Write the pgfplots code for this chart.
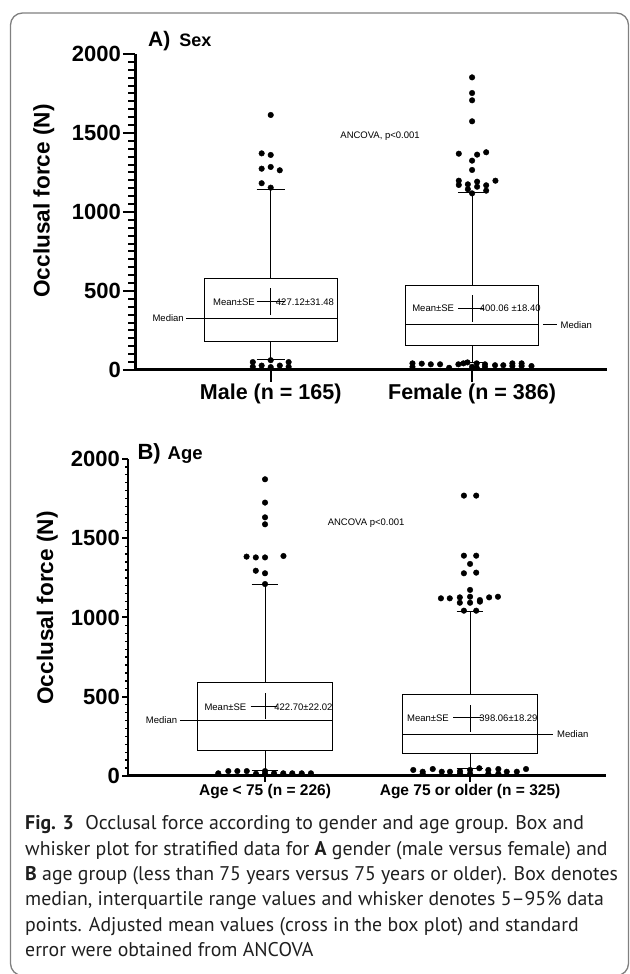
\documentclass[border=0pt]{standalone}
\usepackage{pgfplots}
\pgfplotsset{compat=1.18}
\usepackage{fontspec}
\setmainfont{Liberation Sans}
\newfontfamily\capfont{PT Sans}
\newcommand{\fs}[1]{\fontsize{#1bp}{#1bp}\selectfont}
\tikzset{ann/.style={font=\fs{9.5}, inner sep=1bp}}
\pgfplotsset{
  occl/.style={
    scale only axis, clip=false,
    ymin=0, ymax=2000,
    axis lines*=left,
    x axis line style={line width=3bp},
    tick align=outside, tick pos=left,
    ytick={0,500,1000,1500,2000},
    xtick={1,2},
    /pgf/number format/assume math mode=true,
    /pgf/number format/1000 sep={},
    yticklabel style={font=\fs{22}\bfseries, inner sep=2bp},
    ylabel={Occlusal force (N)},
    major tick style={black},
    unbounded coords=jump,
  },
  outl/.style={only marks, mark=*, mark size=2.8bp, black},
  ln/.style={black, line width=1bp, mark=none},
}
\begin{document}
\begin{tikzpicture}
\path[use as bounding box] (0,0) rectangle (630bp,974bp);
\draw[black!50, line width=1.3bp, rounded corners=12bp] (10.5bp,961bp) rectangle (628.5bp,-1.5bp);

% ---------------- Panel A ----------------
\begin{axis}[occl,
  at={(135bp,604bp)}, anchor=south west,
  width=472bp, height=316bp,
  xmin=0.326, xmax=2.67,
  y axis line style={line width=3bp},
  major tick length=12bp,
  major tick style={line width=2.4bp},
  xticklabels={Male (n = 165), Female (n = 386)},
  xticklabel style={font=\fs{21.5}\bfseries, inner sep=2bp},
  ylabel style={font=\fs{22.6}\bfseries, at={(axis description cs:-0.193,0.535)}, anchor=center},
]
% minor tick comb on the y axis (every 50 N)
\addplot[black, line width=2bp, mark=none] coordinates {
(0.2937,50) (0.326,50) (nan,nan) (0.2937,100) (0.326,100) (nan,nan) (0.2937,150) (0.326,150) (nan,nan)
(0.2937,200) (0.326,200) (nan,nan) (0.2937,250) (0.326,250) (nan,nan) (0.2937,300) (0.326,300) (nan,nan)
(0.2937,350) (0.326,350) (nan,nan) (0.2937,400) (0.326,400) (nan,nan) (0.2937,450) (0.326,450) (nan,nan)
(0.2937,550) (0.326,550) (nan,nan) (0.2937,600) (0.326,600) (nan,nan) (0.2937,650) (0.326,650) (nan,nan)
(0.2937,700) (0.326,700) (nan,nan) (0.2937,750) (0.326,750) (nan,nan) (0.2937,800) (0.326,800) (nan,nan)
(0.2937,850) (0.326,850) (nan,nan) (0.2937,900) (0.326,900) (nan,nan) (0.2937,950) (0.326,950) (nan,nan)
(0.2937,1050) (0.326,1050) (nan,nan) (0.2937,1100) (0.326,1100) (nan,nan) (0.2937,1150) (0.326,1150) (nan,nan)
(0.2937,1200) (0.326,1200) (nan,nan) (0.2937,1250) (0.326,1250) (nan,nan) (0.2937,1300) (0.326,1300) (nan,nan)
(0.2937,1350) (0.326,1350) (nan,nan) (0.2937,1400) (0.326,1400) (nan,nan) (0.2937,1450) (0.326,1450) (nan,nan)
(0.2937,1550) (0.326,1550) (nan,nan) (0.2937,1600) (0.326,1600) (nan,nan) (0.2937,1650) (0.326,1650) (nan,nan)
(0.2937,1700) (0.326,1700) (nan,nan) (0.2937,1750) (0.326,1750) (nan,nan) (0.2937,1800) (0.326,1800) (nan,nan)
(0.2937,1850) (0.326,1850) (nan,nan) (0.2937,1900) (0.326,1900) (nan,nan) (0.2937,1950) (0.326,1950)};
% boxes: Male
\addplot[ln] coordinates {(0.669,179) (1.331,179) (1.331,580) (0.669,580) (0.669,179)};
\addplot[ln] coordinates {(0.669,327) (1.331,327)};
\addplot[ln] coordinates {(1,580) (1,1145)};
\addplot[ln] coordinates {(1,179) (1,68)};
\addplot[ln] coordinates {(0.93,1145) (1.07,1145)};
\addplot[ln] coordinates {(0.93,68) (1.07,68)};
% boxes: Female
\addplot[ln] coordinates {(1.669,152) (2.331,152) (2.331,532) (1.669,532) (1.669,152)};
\addplot[ln] coordinates {(1.669,285) (2.331,285)};
\addplot[ln] coordinates {(2,532) (2,1122)};
\addplot[ln] coordinates {(2,152) (2,46)};
\addplot[ln] coordinates {(1.93,1122) (2.07,1122)};
\addplot[ln] coordinates {(1.93,46) (2.07,46)};
% mean crosses
\addplot[ln] coordinates {(0.93,432) (1.07,432)};
\addplot[ln] coordinates {(1,348) (1,517)};
\addplot[ln] coordinates {(1.932,390) (2.06,390)};
\addplot[ln] coordinates {(2,306) (2,475)};
% median connectors
\addplot[ln] coordinates {(0.58,327) (0.669,327)};
\addplot[ln] coordinates {(2.351,285) (2.42,285)};
% outliers
\addplot[outl] coordinates {(1,1614) (0.955,1371) (1,1361) (0.955,1274) (1,1285) (1.045,1264) (0.955,1182) (1,1154)};
\addplot[outl] coordinates {(0.911,50) (1,62) (1.089,50) (0.911,20) (0.955,28) (1,18) (1.045,28) (1.089,20)};
\addplot[outl] coordinates {(2,1852) (2,1753) (2,1707) (2,1574) (1.934,1369) (2.025,1363) (2.07,1378) (2,1325) (2,1266) (1.934,1198) (1.934,1171) (1.979,1175) (2.025,1192) (2.025,1160) (2.07,1169) (2.07,1135) (1.979,1144) (2,1118) (2.116,1198)};
\addplot[outl] coordinates {(1.704,42) (1.704,20) (1.75,40) (1.795,36) (1.841,36) (1.886,14) (1.932,36) (1.957,42) (1.977,48) (2,20) (2.023,14) (2.023,42) (2.064,36) (2.064,20) (2.114,30) (2.155,30) (2.2,42) (2.2,25) (2.246,42) (2.246,25) (2.295,25)};
% annotations
\node[ann, anchor=east] at (axis cs:0.927,432) {Mean±SE};
\node[ann, anchor=west] at (axis cs:1.02,432) {427.12±31.48};
\node[ann, anchor=east] at (axis cs:0.574,327) {Median};
\node[ann, anchor=east] at (axis cs:1.916,390) {Mean±SE};
\node[ann, anchor=west] at (axis cs:2.033,390) {400.06 ±18.40};
\node[ann, anchor=west] at (axis cs:2.434,285) {Median};
\node[ann] at (axis cs:1.543,1483) {ANCOVA, p<0.001};
\node[anchor=base west, inner sep=0pt] at (axis description cs:0.0275,1.023) {\fs{21}\bfseries A)\hspace{9bp}\fs{18}Sex};
\end{axis}

% ---------------- Panel B ----------------
\begin{axis}[occl,
  at={(128bp,198bp)}, anchor=south west,
  width=478bp, height=317bp,
  xmin=0.3317, xmax=2.663,
  y axis line style={line width=2.5bp},
  major tick length=6bp,
  major tick style={line width=2bp},
  xticklabels={Age < 75 (n = 226), Age 75 or older (n = 325)},
  xticklabel style={font=\fs{15.5}\bfseries, inner sep=2bp},
  ylabel style={font=\fs{22.6}\bfseries, at={(axis description cs:-0.169,0.53)}, anchor=center},
]
% minor tick comb on the y axis (every 50 N)
\addplot[black, line width=1.3bp, mark=none] coordinates {
(0.3171,50) (0.3317,50) (nan,nan) (0.3171,100) (0.3317,100) (nan,nan) (0.3171,150) (0.3317,150) (nan,nan)
(0.3171,200) (0.3317,200) (nan,nan) (0.3171,250) (0.3317,250) (nan,nan) (0.3171,300) (0.3317,300) (nan,nan)
(0.3171,350) (0.3317,350) (nan,nan) (0.3171,400) (0.3317,400) (nan,nan) (0.3171,450) (0.3317,450) (nan,nan)
(0.3171,550) (0.3317,550) (nan,nan) (0.3171,600) (0.3317,600) (nan,nan) (0.3171,650) (0.3317,650) (nan,nan)
(0.3171,700) (0.3317,700) (nan,nan) (0.3171,750) (0.3317,750) (nan,nan) (0.3171,800) (0.3317,800) (nan,nan)
(0.3171,850) (0.3317,850) (nan,nan) (0.3171,900) (0.3317,900) (nan,nan) (0.3171,950) (0.3317,950) (nan,nan)
(0.3171,1050) (0.3317,1050) (nan,nan) (0.3171,1100) (0.3317,1100) (nan,nan) (0.3171,1150) (0.3317,1150) (nan,nan)
(0.3171,1200) (0.3317,1200) (nan,nan) (0.3171,1250) (0.3317,1250) (nan,nan) (0.3171,1300) (0.3317,1300) (nan,nan)
(0.3171,1350) (0.3317,1350) (nan,nan) (0.3171,1400) (0.3317,1400) (nan,nan) (0.3171,1450) (0.3317,1450) (nan,nan)
(0.3171,1550) (0.3317,1550) (nan,nan) (0.3171,1600) (0.3317,1600) (nan,nan) (0.3171,1650) (0.3317,1650) (nan,nan)
(0.3171,1700) (0.3317,1700) (nan,nan) (0.3171,1750) (0.3317,1750) (nan,nan) (0.3171,1800) (0.3317,1800) (nan,nan)
(0.3171,1850) (0.3317,1850) (nan,nan) (0.3171,1900) (0.3317,1900) (nan,nan) (0.3171,1950) (0.3317,1950)};
% boxes: Age < 75
\addplot[ln] coordinates {(0.6705,164) (1.3295,164) (1.3295,593) (0.6705,593) (0.6705,164)};
\addplot[ln] coordinates {(0.6705,353) (1.3295,353)};
\addplot[ln] coordinates {(1,593) (1,1211)};
\addplot[ln] coordinates {(1,164) (1,32)};
\addplot[ln] coordinates {(0.935,1211) (1.065,1211)};
\addplot[ln] coordinates {(0.935,32) (1.065,32)};
% boxes: Age 75 or older
\addplot[ln] coordinates {(1.6705,139) (2.3295,139) (2.3295,517) (1.6705,517) (1.6705,139)};
\addplot[ln] coordinates {(1.6705,263) (2.3295,263)};
\addplot[ln] coordinates {(2,517) (2,1035)};
\addplot[ln] coordinates {(2,139) (2,49)};
\addplot[ln] coordinates {(1.935,1035) (2.065,1035)};
\addplot[ln] coordinates {(1.935,49) (2.065,49)};
% mean crosses
\addplot[ln] coordinates {(0.93,437) (1.06,437)};
\addplot[ln] coordinates {(1,358) (1,526)};
\addplot[ln] coordinates {(1.919,366) (2.06,366)};
\addplot[ln] coordinates {(2,279) (2,448)};
% median connectors
\addplot[ln] coordinates {(0.585,353) (0.671,353)};
\addplot[ln] coordinates {(2.333,263) (2.404,263)};
% outliers
\addplot[outl] coordinates {(1,1872) (1,1725) (1,1632) (1,1588) (0.91,1384) (0.955,1379) (1,1379) (1.09,1388) (0.955,1295) (1,1279) (1,1211)};
\addplot[outl] coordinates {(0.772,17) (0.821,31) (0.865,31) (0.911,31) (0.956,14) (1,31) (1,14) (1.044,17) (1.089,17) (1.133,17) (1.179,17) (1.224,17)};
\addplot[outl] coordinates {(1.97,1769) (2.03,1769) (1.97,1390) (2.03,1390) (2,1338) (1.97,1279) (2.03,1283) (2,1174) (1.858,1121) (1.901,1121) (1.95,1127) (2,1131) (2.048,1110) (2.093,1127) (2.136,1131) (1.95,1093) (2,1093) (2.048,1100) (1.97,1043) (2.03,1043)};
\addplot[outl] coordinates {(1.723,38) (1.769,27) (1.769,14) (1.818,44) (1.862,27) (1.902,27) (1.951,31) (1.951,14) (2,38) (2,14) (2.045,49) (2.089,38) (2.089,14) (2.138,44) (2.138,14) (2.179,27) (2.228,27) (2.273,44)};
% annotations
\node[ann, anchor=east] at (axis cs:0.914,437) {Mean±SE};
\node[ann, anchor=west] at (axis cs:1.04,437) {422.70±22.02};
\node[ann, anchor=east] at (axis cs:0.577,353) {Median};
\node[ann, anchor=east] at (axis cs:1.902,366) {Mean±SE};
\node[ann, anchor=west] at (axis cs:2.04,366) {398.06±18.29};
\node[ann, anchor=west] at (axis cs:2.419,263) {Median};
\node[ann] at (axis cs:1.493,1594) {ANCOVA p<0.001};
\node[anchor=base west, inner sep=0pt] at (axis description cs:0.0195,0.999) {\fs{22}\bfseries B)\hspace{7bp}\fs{18.5}Age};
\end{axis}

% ---------------- Caption ----------------
\begin{scope}[every node/.style={anchor=base west, inner sep=0pt, font=\capfont\fs{19.8}, text=black!88}]
\node at (25bp,144bp) {\textbf{Fig. 3}\hspace{6bp} Occlusal force according to gender and age group. Box and};
\node at (25bp,118.7bp) {whisker plot for stratified data for \textbf{A} gender (male versus female) and};
\node at (25bp,93.4bp) {\textbf{B} age group (less than 75 years versus 75 years or older). Box denotes};
\node at (25bp,68.1bp) {median, interquartile range values and whisker denotes 5–95\% data};
\node at (25bp,42.8bp) {points. Adjusted mean values (cross in the box plot) and standard};
\node at (25bp,17.5bp) {error were obtained from ANCOVA};
\end{scope}
\end{tikzpicture}
\end{document}
